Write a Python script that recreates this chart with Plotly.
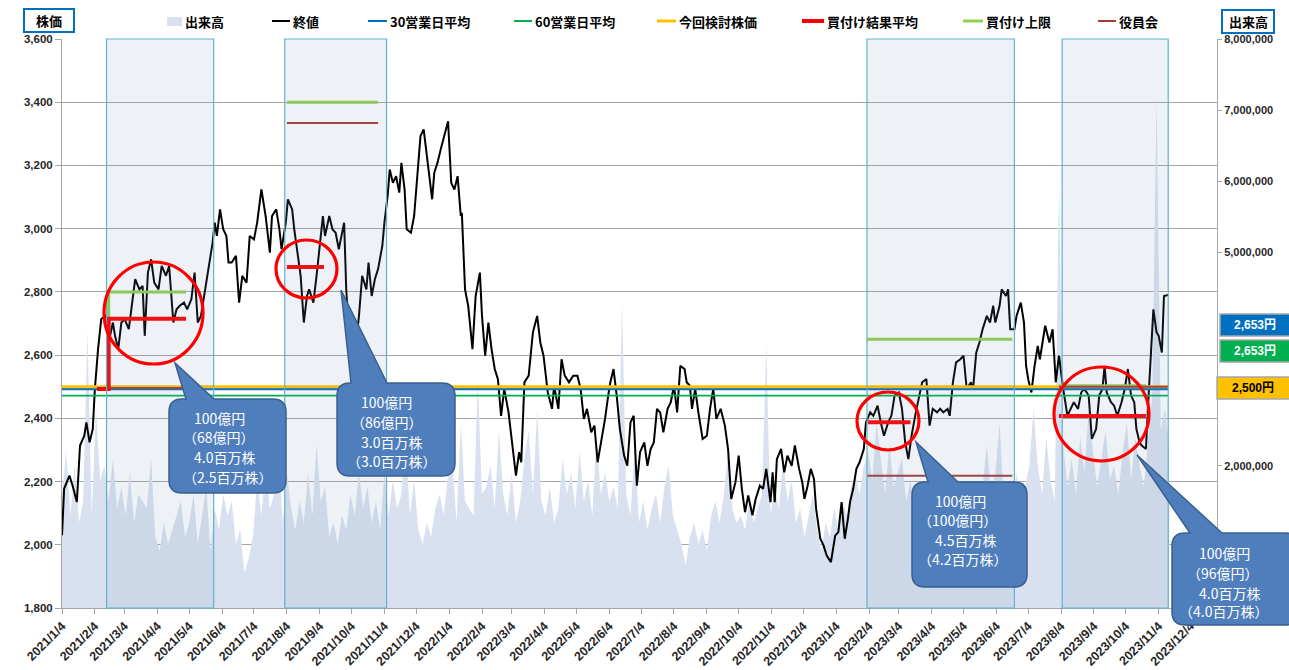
import plotly.graph_objects as go
import pandas as pd

W, H = 1289, 670
PL, PR, PT, PB = 62, 1217, 39, 608          # plot-area edges in pixels

START = pd.Timestamp("2021-01-04")
X_END = "2023-12-29"

# ---------------- data ----------------
price_day = [
    0, 2, 7, 10, 14, 17, 21, 23, 26, 29, 31, 34, 37, 41, 44, 48, 50, 53, 56, 59,
    63, 66, 69, 73, 76, 78, 81, 84, 87, 91, 94, 98, 101, 105, 108, 111, 115, 118, 122, 125,
    128, 131, 134, 138, 142, 144, 146, 149, 152, 155, 157, 160, 164, 167, 170, 174, 177, 181, 184, 188,
    192, 196, 198, 202, 205, 207, 211, 213, 217, 219, 223, 225, 228, 231, 233, 237, 240, 243, 246, 248,
    252, 255, 258, 261, 266, 268, 270, 273, 276, 280, 283, 287, 289, 292, 295, 298, 302, 304, 307, 309,
    312, 315, 318, 320, 323, 325, 329, 332, 335, 338, 341, 344, 346, 349, 351, 354, 357, 361, 364, 367,
    370, 373, 376, 377, 380, 383, 387, 390, 394, 396, 399, 402, 405, 408, 411, 414, 417, 421, 424, 428,
    431, 433, 436, 440, 444, 448, 451, 454, 458, 462, 464, 468, 471, 474, 478, 482, 486, 489, 492, 495,
    499, 502, 505, 509, 512, 515, 517, 520, 523, 526, 530, 533, 536, 539, 542, 545, 549, 552, 555, 558,
    561, 564, 567, 571, 574, 577, 580, 583, 587, 589, 592, 594, 597, 600, 604, 608, 611, 614, 617, 621,
    625, 628, 631, 635, 638, 641, 644, 647, 651, 654, 658, 661, 664, 668, 670, 672, 674, 678, 681, 684,
    688, 691, 695, 698, 700, 703, 706, 709, 711, 715, 718, 721, 725, 729, 732, 735, 738, 741, 743, 746,
    749, 752, 756, 758, 762, 765, 769, 772, 775, 779, 782, 785, 789, 792, 795, 798, 801, 805, 808, 811,
    815, 818, 821, 825, 828, 831, 835, 837, 840, 843, 847, 850, 853, 857, 859, 862, 865, 868, 872, 875,
    878, 880, 884, 886, 890, 892, 894, 898, 900, 904, 907, 909, 911, 914, 917, 920, 922, 925, 927, 931,
    934, 937, 940, 944, 948, 951, 954, 958, 961, 964, 968, 971, 975, 978, 981, 983, 985, 989, 992, 995,
    999, 1002, 1005, 1008, 1011, 1013, 1016, 1018, 1022, 1024, 1027, 1029, 1032, 1034, 1037, 1039, 1043,
]
price_close = [
    2030, 2177, 2219, 2187, 2135, 2314, 2345, 2387, 2324, 2366, 2493, 2619, 2714, 2724, 2640, 2703, 2661, 2619, 2703, 2714,
    2682, 2766, 2840, 2808, 2819, 2661, 2861, 2903, 2829, 2808, 2882, 2851, 2882, 2703, 2745, 2756, 2766, 2745, 2777, 2861,
    2703, 2724, 2787, 2882, 2956, 3019, 2977, 3061, 2998, 2977, 2893, 2893, 2914, 2766, 2851, 2829, 2977, 2966, 3019, 3124,
    3040, 2924, 3040, 3061, 2998, 2935, 3019, 3093, 3061, 2998, 2893, 2851, 2703, 2787, 2808, 2766, 2851, 2945, 3040, 2977,
    3040, 2998, 2987, 2935, 3019, 2808, 2703, 2620, 2600, 2724, 2851, 2808, 2893, 2787, 2840, 2872, 2945, 3019, 3103, 3187,
    3145, 3166, 3114, 3208, 3124, 2998, 2987, 3040, 3156, 3293, 3314, 3229, 3166, 3093, 3177, 3208, 3250, 3303, 3340, 3145,
    3124, 3166, 3040, 3050, 2808, 2756, 2619, 2787, 2861, 2724, 2598, 2703, 2619, 2556, 2524, 2408, 2493, 2419, 2324, 2219,
    2293, 2261, 2514, 2535, 2672, 2724, 2640, 2598, 2482, 2430, 2503, 2430, 2587, 2535, 2514, 2535, 2535, 2493, 2398, 2430,
    2356, 2377, 2261, 2335, 2398, 2472, 2514, 2556, 2472, 2366, 2282, 2250, 2387, 2408, 2187, 2293, 2324, 2250, 2303, 2324,
    2430, 2419, 2356, 2430, 2451, 2503, 2419, 2566, 2556, 2514, 2503, 2430, 2493, 2419, 2335, 2345, 2430, 2493, 2398, 2430,
    2377, 2303, 2145, 2198, 2282, 2177, 2103, 2156, 2093, 2145, 2187, 2177, 2240, 2135, 2229, 2135, 2271, 2303, 2229, 2282,
    2250, 2314, 2240, 2198, 2145, 2187, 2240, 2208, 2114, 2019, 1998, 1966, 1945, 2029, 2040, 2135, 2019, 2082, 2135, 2177,
    2240, 2261, 2303, 2387, 2419, 2408, 2440, 2387, 2345, 2387, 2408, 2472, 2482, 2430, 2324, 2271, 2345, 2419, 2472, 2514,
    2524, 2377, 2430, 2419, 2430, 2419, 2430, 2408, 2514, 2577, 2587, 2598, 2493, 2514, 2493, 2608, 2640, 2682, 2724, 2703,
    2756, 2703, 2756, 2808, 2787, 2808, 2682, 2682, 2724, 2766, 2703, 2566, 2524, 2482, 2566, 2629, 2587, 2650, 2693, 2640,
    2682, 2514, 2598, 2493, 2408, 2430, 2451, 2430, 2482, 2493, 2472, 2335, 2366, 2472, 2493, 2566, 2482, 2451, 2440, 2408,
    2451, 2493, 2556, 2472, 2451, 2366, 2324, 2314, 2303, 2440, 2629, 2745, 2672, 2661, 2608, 2787, 2790,
]

volume_step_days = 4
volume_million = [
    1.6, 2.2, 1.3, 2.0, 1.2, 1.5, 3.9, 1.3, 2.8, 1.8,
    2.0, 1.5, 2.1, 1.4, 1.7, 1.3, 1.9, 1.2, 1.6, 1.5,
    1.4, 2.1, 1.0, 0.8, 1.2, 0.9, 1.1, 1.3, 1.5, 1.0,
    1.2, 1.6, 0.9, 1.3, 1.7, 0.8, 1.4, 1.1, 1.6, 1.3,
    1.5, 0.9, 1.1, 0.5, 0.7, 1.0, 1.8, 1.3, 2.0, 1.4,
    1.6, 2.3, 1.2, 1.9, 1.4, 1.1, 1.5, 1.2, 1.9, 1.3,
    2.3, 1.5, 1.7, 1.0, 1.2, 0.9, 1.3, 1.1, 1.6, 1.3,
    1.9, 1.4, 1.7, 1.2, 1.5, 1.1, 1.9, 1.3, 1.8, 1.4,
    1.6, 2.4, 1.3, 1.8, 1.1, 0.9, 1.2, 1.0, 1.4, 1.6,
    1.3, 1.9, 2.1, 1.2, 2.6, 1.5, 1.4, 1.3, 3.2, 1.6,
    1.7, 2.0, 1.4, 2.5, 1.6, 1.3, 1.9, 1.2, 1.5, 2.1,
    2.5, 1.6, 2.8, 1.5, 1.3, 1.7, 1.2, 1.4, 2.1, 1.6,
    1.9, 1.4, 2.2, 1.5, 1.8, 1.3, 2.4, 1.6, 1.9, 1.5,
    1.7, 1.4, 4.3, 1.6, 1.3, 2.3, 1.2, 1.5, 1.1, 1.4,
    1.6, 1.2, 1.7, 2.0, 1.3, 1.1, 0.9, 0.6, 1.0, 1.2,
    0.9, 1.1, 0.8, 1.3, 1.5, 1.2, 1.6, 2.2, 1.4, 1.2,
    1.3, 1.1, 1.5, 1.2, 1.4, 1.6, 3.7, 1.3, 1.7, 1.4,
    2.1, 1.5, 1.8, 1.2, 1.4, 1.0, 1.3, 1.6, 1.1, 0.8,
    1.2, 1.0, 1.4, 1.1, 1.5, 1.3, 1.7, 1.9, 1.6, 2.0,
    2.2, 1.8, 2.6, 2.1, 1.6, 2.3, 1.7, 1.9, 2.1, 1.5,
    1.8, 1.3, 1.7, 1.5, 1.2, 1.6, 1.4, 1.1, 1.3, 1.0,
    1.4, 1.2, 1.6, 1.3, 1.8, 1.5, 1.2, 1.7, 2.3, 1.6,
    1.9, 2.6, 1.5, 1.8, 1.4, 1.9, 1.3, 1.7, 2.0, 2.8,
    2.0, 1.6, 2.4, 1.8, 1.5, 6.0, 2.3, 1.7, 2.1, 1.6,
    2.4, 1.9, 2.8, 2.2, 1.7, 2.1, 2.5, 1.8, 2.0, 1.6,
    2.2, 2.6, 1.8, 2.4, 2.0, 1.7, 2.3, 3.0, 7.2, 2.5,
    2.8, 2.2,
]

# flat reference lines (start/end day offsets)
ref_days = [0, 1043]
kentou_price = [2500, 2500]
avg30_price = [2493, 2493]
avg60_price = [2472, 2472]

kekka_days = [33, 44, 44, 117, None, 212, 247, None, 760, 800, None, 940, 1022]
kekka_price = [2493, 2493, 2715, 2715, None, 2879, 2879, None, 2388, 2388, None, 2407, 2407]
jougen_days = [33, 44, 44, 117, None, 212, 298, None, 759, 896, None, 940, 1022]
jougen_price = [2497, 2497, 2800, 2800, None, 3400, 3400, None, 2650, 2650, None, 2503, 2503]
yakuin_days = [33, 117, None, 212, 298, None, 759, 896, None, 940, 1043]
yakuin_price = [2496, 2496, None, 3334, 3334, None, 2218, 2218, None, 2500, 2500]

period_start = ["2021-02-15", "2021-08-02", "2023-02-02", "2023-08-05"]
period_end = ["2021-05-27", "2021-11-06", "2023-06-21", "2023-11-13"]

tick_labels = [
    "2021/1/4", "2021/2/4", "2021/3/4", "2021/4/4", "2021/5/4", "2021/6/4",
    "2021/7/4", "2021/8/4", "2021/9/4", "2021/10/4", "2021/11/4", "2021/12/4",
    "2022/1/4", "2022/2/4", "2022/3/4", "2022/4/4", "2022/5/4", "2022/6/4",
    "2022/7/4", "2022/8/4", "2022/9/4", "2022/10/4", "2022/11/4", "2022/12/4",
    "2023/1/4", "2023/2/4", "2023/3/4", "2023/4/4", "2023/5/4", "2023/6/4",
    "2023/7/4", "2023/8/4", "2023/9/4", "2023/10/4", "2023/11/4", "2023/12/4",
]
# right-axis labels that are not hidden behind the tags / callout
volume_tick_vals = [2e6, 5e6, 6e6, 7e6, 8e6]

legend_labels = ["出来高", "終値", "30営業日平均", "60営業日平均", "今回検討株価", "買付け結果平均", "買付け上限", "役員会"]
legend_colors = ["#d9e1f0", "#000000", "#0070C0", "#00B050", "#FFC000", "#FF0000", "#92D050", "#A33B3B"]

tag_texts = ["2,653円", "2,653円", "2,500円"]
tag_fills = ["#0070C0", "#00B050", "#FFC000"]
tag_fonts = ["white", "white", "black"]

callout_texts = [
    ["100億円", "（68億円）", "4.0百万株", "（2.5百万株）"],
    ["100億円", "（86億円）", "3.0百万株", "（3.0百万株）"],
    ["100億円", "（100億円）", "4.5百万株", "（4.2百万株）"],
    ["100億円", "（96億円）", "4.0百万株", "（4.0百万株）"],
]

# ---------------- helpers ----------------
def to_dates(days):
    return [None if d is None else START + pd.Timedelta(days=d) for d in days]

def px(x):
    return (x - PL) / (PR - PL)

def py(y):
    return (PB - y) / (PB - PT)

CJK = "Noto Sans CJK JP"
NUMF = "Liberation Sans, Noto Sans CJK JP"

vol_dates = [START + pd.Timedelta(days=volume_step_days * i) for i in range(len(volume_million))]
vol_values = [v * 1e6 for v in volume_million]

fig = go.Figure()
fig.add_trace(go.Scatter(x=vol_dates, y=vol_values, yaxis="y", mode="lines",
                         line=dict(width=0, color="#d9e1f0"), fill="tozeroy",
                         fillcolor="#d9e1f0", name="出来高", hoverinfo="skip"))
fig.add_trace(go.Scatter(x=to_dates(price_day), y=price_close, yaxis="y2", mode="lines",
                         line=dict(color="#000000", width=2), name="終値"))
fig.add_trace(go.Scatter(x=to_dates(ref_days), y=avg30_price, yaxis="y2", mode="lines",
                         line=dict(color="#0070C0", width=2.5), name="30営業日平均"))
fig.add_trace(go.Scatter(x=to_dates(ref_days), y=avg60_price, yaxis="y2", mode="lines",
                         line=dict(color="#00B050", width=1.8), name="60営業日平均"))
fig.add_trace(go.Scatter(x=to_dates(ref_days), y=kentou_price, yaxis="y2", mode="lines",
                         line=dict(color="#FFC000", width=3), name="今回検討株価"))
fig.add_trace(go.Scatter(x=to_dates(jougen_days), y=jougen_price, yaxis="y2", mode="lines",
                         line=dict(color="#92D050", width=3), name="買付け上限", connectgaps=False))
fig.add_trace(go.Scatter(x=to_dates(yakuin_days), y=yakuin_price, yaxis="y2", mode="lines",
                         line=dict(color="#A33B3B", width=2), name="役員会", connectgaps=False))
fig.add_trace(go.Scatter(x=to_dates(kekka_days), y=kekka_price, yaxis="y2", mode="lines",
                         line=dict(color="#FF0000", width=4), name="買付け結果平均", connectgaps=False))

shapes = []
annotations = []

# decision periods (shaded boxes)
for s, e in zip(period_start, period_end):
    shapes.append(dict(type="rect", xref="x", yref="paper", x0=s, x1=e, y0=0, y1=1,
                       fillcolor="rgba(113,145,179,0.12)", line=dict(color="#5FB3CC", width=1.2),
                       layer="above"))

# red circles (pixel boxes)
circle_boxes = [(104, 262, 203, 364), (276, 240, 337, 298), (857, 392, 919, 450), (1054, 367, 1149, 461)]
for x0, y0, x1, y1 in circle_boxes:
    shapes.append(dict(type="circle", xref="paper", yref="paper", x0=px(x0), x1=px(x1),
                       y0=py(y1), y1=py(y0), line=dict(color="#FF0000", width=3.2), layer="above"))

# callouts: box (x0,y0,x1,y1), tail tip, tail base on top edge, text layout
callout_geo = [
    dict(box=(169, 399, 286, 493), tip=(175, 363), base=(186, 214),
         tx=[192, 181, 192, 181], ty=[418, 437, 457, 477]),
    dict(box=(337, 383, 455, 476), tip=(341, 290), base=(351, 387),
         tx=[359, 349, 359, 345], ty=[402, 422, 442, 461]),
    dict(box=(912, 482, 1027, 587), tip=(916, 442), base=(928, 958),
         tx=[933, 916, 933, 916], ty=[501, 520, 540, 559]),
    dict(box=(1172, 533, 1298, 625), tip=(1137, 455), base=(1190, 1222),
         tx=[1197, 1185, 1197, 1177], ty=[553, 573, 593, 611]),
]

def callout_path(box, tip, base, r=13):
    x0, y0, x1, y1 = box
    b0, b1 = base
    P = lambda x, y: f"{px(x):.5f},{py(y):.5f}"
    return (f"M {P(x0 + r, y0)} L {P(b0, y0)} L {P(*tip)} L {P(b1, y0)} L {P(x1 - r, y0)} "
            f"Q {P(x1, y0)} {P(x1, y0 + r)} L {P(x1, y1 - r)} Q {P(x1, y1)} {P(x1 - r, y1)} "
            f"L {P(x0 + r, y1)} Q {P(x0, y1)} {P(x0, y1 - r)} L {P(x0, y0 + r)} "
            f"Q {P(x0, y0)} {P(x0 + r, y0)} Z")

for geo, lines in zip(callout_geo, callout_texts):
    shapes.append(dict(type="path", xref="paper", yref="paper",
                       path=callout_path(geo["box"], geo["tip"], geo["base"]),
                       fillcolor="#4F7EBC", line=dict(color="#3A5F8F", width=1.5), layer="above"))
    for t, x, y in zip(lines, geo["tx"], geo["ty"]):
        annotations.append(dict(xref="paper", yref="paper", x=px(x), y=py(y), text=t,
                                showarrow=False, xanchor="left", yanchor="middle",
                                font=dict(family=CJK, size=14, color="white")))

# right-side value tags
tag_boxes = [(1220, 314, 1289, 336), (1220, 340, 1289, 362), (1217, 377, 1289, 399)]
for (x0, y0, x1, y1), t, f, fc in zip(tag_boxes, tag_texts, tag_fills, tag_fonts):
    shapes.append(dict(type="rect", xref="paper", yref="paper", x0=px(x0), x1=px(x1 + 3),
                       y0=py(y1), y1=py(y0), fillcolor=f, line=dict(color="#A6A6A6", width=1.5)))
    annotations.append(dict(xref="paper", yref="paper", x=px((x0 + x1) / 2), y=py((y0 + y1) / 2),
                            text=f"<b>{t}</b>", showarrow=False, xanchor="center", yanchor="middle",
                            font=dict(family=NUMF, size=12, color=fc)))

# axis title boxes
title_boxes = [("株価", (24, 9, 74, 32)), ("出来高", (1222, 10, 1274, 33))]
for t, (x0, y0, x1, y1) in title_boxes:
    shapes.append(dict(type="rect", xref="paper", yref="paper", x0=px(x0), x1=px(x1),
                       y0=py(y1), y1=py(y0), fillcolor="white", line=dict(color="#0070C0", width=2)))
    annotations.append(dict(xref="paper", yref="paper", x=px((x0 + x1) / 2), y=py((y0 + y1) / 2),
                            text=f"<b>{t}</b>", showarrow=False, xanchor="center", yanchor="middle",
                            font=dict(family=CJK, size=13, color="black")))

# manual legend
legend_y = 21
legend_swatch_x = [(167, 182), (272, 290), (368, 387), (514, 532), (657, 676), (802, 824), (963, 983), (1098, 1116)]
legend_widths = [0, 2, 2, 2, 3, 4, 3, 2]
for lab, col, (a, b), w in zip(legend_labels, legend_colors, legend_swatch_x, legend_widths):
    if w == 0:
        shapes.append(dict(type="rect", xref="paper", yref="paper", x0=px(a), x1=px(b),
                           y0=py(legend_y + 5), y1=py(legend_y - 4), fillcolor=col, line=dict(width=0)))
    else:
        shapes.append(dict(type="line", xref="paper", yref="paper", x0=px(a), x1=px(b),
                           y0=py(legend_y), y1=py(legend_y), line=dict(color=col, width=w)))
    annotations.append(dict(xref="paper", yref="paper", x=px(b + 1), y=py(legend_y), text=f"<b>{lab}</b>",
                            showarrow=False, xanchor="left", yanchor="middle",
                            font=dict(family=CJK, size=13, color="black")))

tick_vals = pd.to_datetime(tick_labels, format="%Y/%m/%d")

fig.update_layout(
    width=W, height=H, autosize=False,
    margin=dict(l=PL, r=W - PR, t=PT, b=H - PB, pad=0, autoexpand=False),
    paper_bgcolor="white", plot_bgcolor="white",
    showlegend=False,
    shapes=shapes, annotations=annotations,
    xaxis=dict(type="date", range=[START, X_END], tickvals=tick_vals, ticktext=tick_labels,
               tickangle=-45, showgrid=False, showline=True, linecolor="#A6A6A6", linewidth=1,
               ticks="outside", ticklen=5, tickcolor="#A6A6A6", automargin=False,
               tickfont=dict(family=NUMF, size=12.5, color="#262626", weight="bold"),
               anchor="y"),
    yaxis=dict(range=[0, 8e6], tickvals=volume_tick_vals, tickformat=",", side="right", showgrid=False,
               showline=True, linecolor="#A6A6A6", ticks="outside", ticklen=4, tickcolor="#A6A6A6",
               automargin=False,
               tickfont=dict(family=NUMF, size=11, color="#262626", weight="bold"), zeroline=False),
    yaxis2=dict(range=[1800, 3600], dtick=200, tickformat=",", side="left", overlaying="y",
                showgrid=True, gridcolor="#A6A6A6", gridwidth=1, showline=True, linecolor="#A6A6A6",
                ticks="outside", ticklen=6, tickcolor="#A6A6A6", zeroline=False, automargin=False,
                tickfont=dict(family=NUMF, size=11.5, color="#262626", weight="bold")),
)

fig.write_html("out.html", config={"displayModeBar": False},
               post_script="document.body.style.margin='0px';document.body.style.overflow='hidden';")
